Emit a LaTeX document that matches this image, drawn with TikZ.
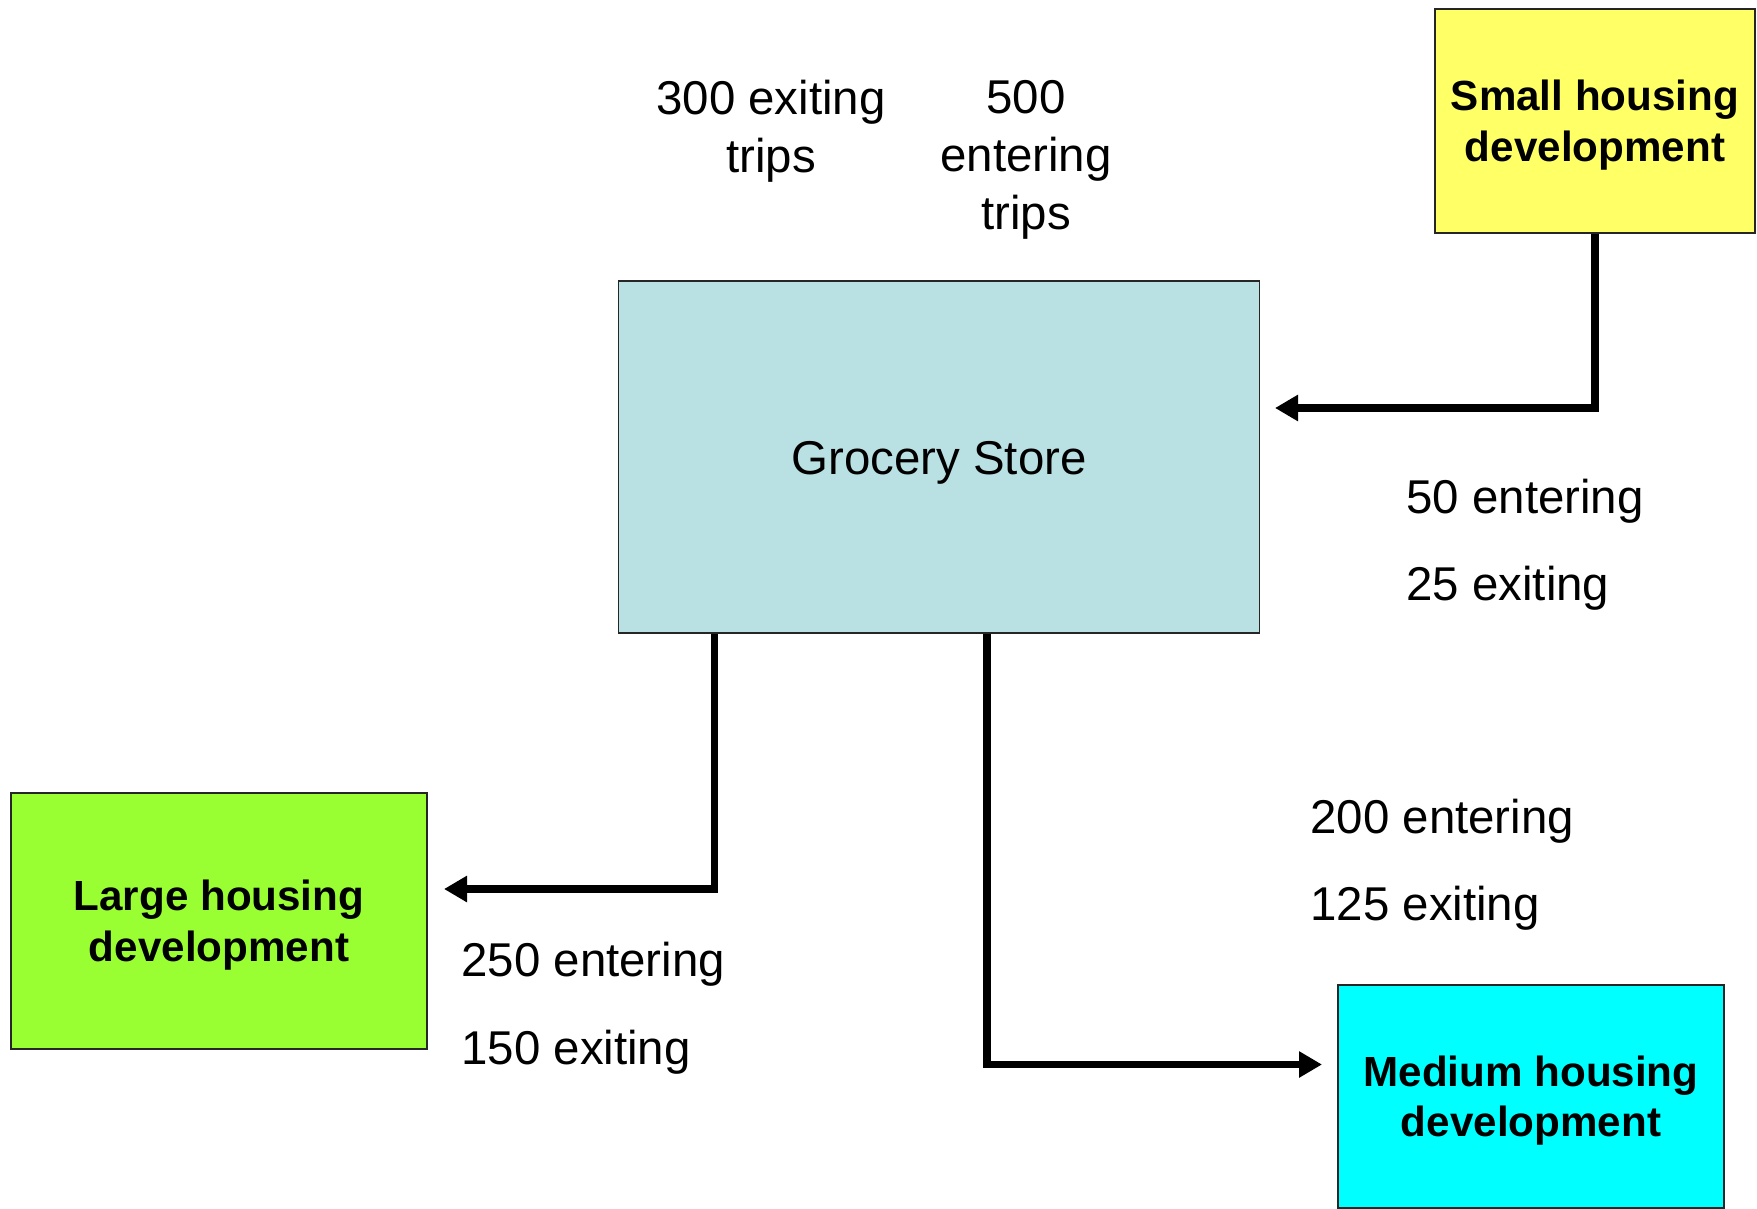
\documentclass[tikz,border=0pt]{standalone}
\usepackage{fontspec}
\setmainfont{Liberation Sans}
\usetikzlibrary{arrows.meta, positioning, calc}
\definecolor{cStore}{RGB}{185, 224, 227}
\definecolor{cSmall}{RGB}{255, 255, 102}
\definecolor{cMedium}{RGB}{0, 255, 255}
\definecolor{cLarge}{RGB}{153, 255, 51}
\definecolor{tDark}{RGB}{0, 0, 0}

\begin{document}
\begin{tikzpicture}[
    x=0.02cm, y=-0.02cm,
    font=\fontsize{27}{33}\selectfont,
    block/.style={
        draw=tDark!85,
        fill=#1,
        line width=1pt,
        align=center,
        inner sep=0pt
    },
    house/.style={
        block=#1,
        font=\fontsize{24}{28.7}\selectfont\bfseries,
        text height=48.5pt,
        text depth=2.5pt
    },
    count/.style={anchor=west, inner sep=0pt},
    arrow/.style={-{Triangle[length=0.46cm, width=0.5cm]}, line width=4.4pt, color=tDark}
]
\useasboundingbox (0,0) rectangle (1757,1209);

% Store and housing developments
\node[block=cStore, minimum width=12.82cm, minimum height=7.04cm,
      text height=22.9pt, text depth=2.85pt] (store) at (939, 457) {Grocery Store};
\node[house=cSmall, minimum width=6.4cm, minimum height=4.48cm] (small) at (1595, 121) {Small housing\\development};
\node[house=cLarge, minimum width=8.32cm, minimum height=5.12cm] (large) at (219, 921) {Large housing\\development};
\node[house=cMedium, minimum width=7.72cm, minimum height=4.46cm] (medium) at (1531, 1096.5) {Medium housing\\development};

% Store totals
\node[align=center] (storeout) at (771, 131) {300 exiting\\trips};
\node[align=center] (storein) at (1026, 159.5) {500\\entering\\trips};

% Trip counts
\node[count] (smallin) at (1406, 501.5) {50 entering};
\node[count] (smallout) at (1406, 588) {25 exiting};
\node[count] (mediumin) at (1310, 821) {200 entering};
\node[count] (mediumout) at (1310, 908) {125 exiting};
\node[count] (largein) at (461, 964) {250 entering};
\node[count] (largeout) at (461, 1052) {150 exiting};

% Connectors
\coordinate (smallend) at (1275, 408);
\coordinate (largestart) at ($(store.south west)!0.1505!(store.south east)$);
\coordinate (largeend) at (444, 889);
\coordinate (mediumstart) at ($(store.south west)!0.575!(store.south east)$);
\coordinate (mediumend) at (1322, 1064.5);

\draw[arrow] (small.south) |- (smallend);
\draw[arrow] (largestart) |- (largeend);
\draw[arrow] (mediumstart) |- (mediumend);

\end{tikzpicture}
\end{document}
